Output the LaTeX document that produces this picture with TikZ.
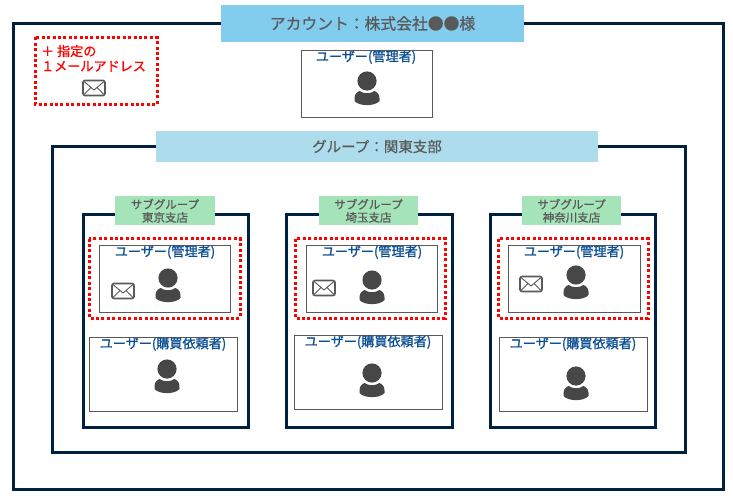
\documentclass[tikz,border=0pt]{standalone}
\usepackage{fontspec}
\setmainfont{Noto Sans CJK JP}
\newfontfamily\medf[FakeBold=0.6]{Noto Sans CJK JP}
\newfontfamily\semif[FakeBold=1.1]{Noto Sans CJK JP}
\definecolor{navy}{HTML}{002040}
\definecolor{acct}{HTML}{82CDEE}
\definecolor{grp}{HTML}{ADDCEC}
\definecolor{sub}{HTML}{A5E3B9}
\definecolor{txt}{HTML}{595959}
\definecolor{ublue}{HTML}{0B4F94}
\definecolor{pers}{HTML}{474747}
\tikzset{
  frame/.style={draw=navy,line width=3pt,fill=white},
  ubox/.style={draw=txt,line width=1pt,fill=white},
  reddash/.style={draw=red,line width=3pt,dash pattern=on 3pt off 2.4pt},
  band/.style={anchor=center,inner sep=0pt,align=center,text=txt},
  subband/.style={band,fill=sub,minimum height=29pt,font=\fontsize{11.5}{13}\selectfont\medf},
  ulabel/.style={anchor=center,inner sep=0pt,text=ublue,font=\fontsize{13.1}{14}\selectfont\semif},
  person/.pic={
    \fill[pers] (0,-7) circle (9.6);
    \fill[pers] (-12.5,13) .. controls (-13,8) and (-11.5,4.5) .. (-7.5,3) .. controls (-3,6) and (3,6) .. (7.5,3) .. controls (11.5,4.5) and (13,8) .. (12.5,13) .. controls (8,18.5) and (-8,18.5) .. (-12.5,13) -- cycle;
  },
  envelope/.pic={
    \draw[txt,line width=1.6pt,rounded corners=2pt,fill=white] (-11,-7.5) rectangle (11,7.5);
    \draw[txt,line width=.9pt] (-10,-6.5) -- (0,2) -- (10,-6.5) (-10,6.5) -- (-3,-.5) (10,6.5) -- (3,-.5);
  }
}
\begin{document}
\begin{tikzpicture}[x=1pt,y=-1pt]
\useasboundingbox (0,0) rectangle (733,495);
\newcommand{\rbox}[6][ubox]{\draw[#1] (#3,#4) rectangle (#5,#6) node[pos=.5,inner sep=0pt] (#2) {};}
\rbox[frame]{outer}{13}{24}{723}{489}
\node[band,fill=acct,minimum width=303pt,minimum height=37pt,font=\fontsize{15.8}{16}\selectfont\medf] (acct) at (372.5,23.5) {アカウント：株式会社●●様};
\draw[reddash] (35,37.5) rectangle (157,104) node[pos=.5,inner sep=0pt] (memo) {};
\node[anchor=center,inner sep=0pt,align=left,text=red,font=\fontsize{13.1}{15}\selectfont\semif] (memotext) at (93.5,58.3) {＋ 指定の\\１メールアドレス};
\pic at (94,88) {envelope};
\rbox{topadmin}{301}{50.5}{432.5}{117.5}
\node[ulabel] (topadminl) at (366,57) {ユーザー(管理者)};
\pic at (367,88) {person};
\rbox[frame]{group}{52}{146}{685.5}{452}
\node[band,fill=grp,minimum width=442pt,minimum height=31pt,font=\fontsize{14.5}{15}\selectfont\medf] (grp) at (377,146.5) {グループ：関東支部};
% subgroup 1
\rbox[frame]{subA}{83}{214}{248.5}{427}
\node[subband,minimum width=100pt] (subAl) at (165,210.8) {サブグループ\\東京支店};
\draw[reddash] (89,238.5) rectangle (240,318) node[pos=.5,inner sep=0pt] (redA) {};
\rbox{adminA}{99}{245.5}{230.5}{312.5}
\node[ulabel] (adminAl) at (165,252) {ユーザー(管理者)};
\pic at (123,291) {envelope};
\pic at (168,285) {person};
\rbox{buyA}{89}{337.5}{237.5}{411.5}
\node[ulabel] (buyAl) at (163,344) {ユーザー(購買依頼者)};
\pic at (167,376) {person};
% subgroup 2
\rbox[frame]{subB}{286}{214}{452.5}{427}
\node[subband,minimum width=99pt] (subBl) at (368.5,210.8) {サブグループ\\埼玉支店};
\draw[reddash] (295,238.5) rectangle (445,318) node[pos=.5,inner sep=0pt] (redB) {};
\rbox{adminB}{306}{245.5}{437}{312.5}
\node[ulabel] (adminBl) at (372,252) {ユーザー(管理者)};
\pic at (324,288) {envelope};
\pic at (372,287) {person};
\rbox{buyB}{294}{335.5}{442}{409.5}
\node[ulabel] (buyBl) at (368,342) {ユーザー(購買依頼者)};
\pic at (372,380) {person};
% subgroup 3
\rbox[frame]{subC}{490}{214}{655.5}{427}
\node[subband,minimum width=99pt] (subCl) at (571.5,210.8) {サブグループ\\神奈川支店};
\draw[reddash] (498,238.5) rectangle (648,318) node[pos=.5,inner sep=0pt] (redC) {};
\rbox{adminC}{508}{245.5}{640}{312.5}
\node[ulabel] (adminCl) at (574,252) {ユーザー(管理者)};
\pic at (531,284) {envelope};
\pic at (576,282) {person};
\rbox{buyC}{499}{337.5}{647}{411.5}
\node[ulabel] (buyCl) at (573,344) {ユーザー(購買依頼者)};
\pic at (576,383) {person};
\end{tikzpicture}
\end{document}
